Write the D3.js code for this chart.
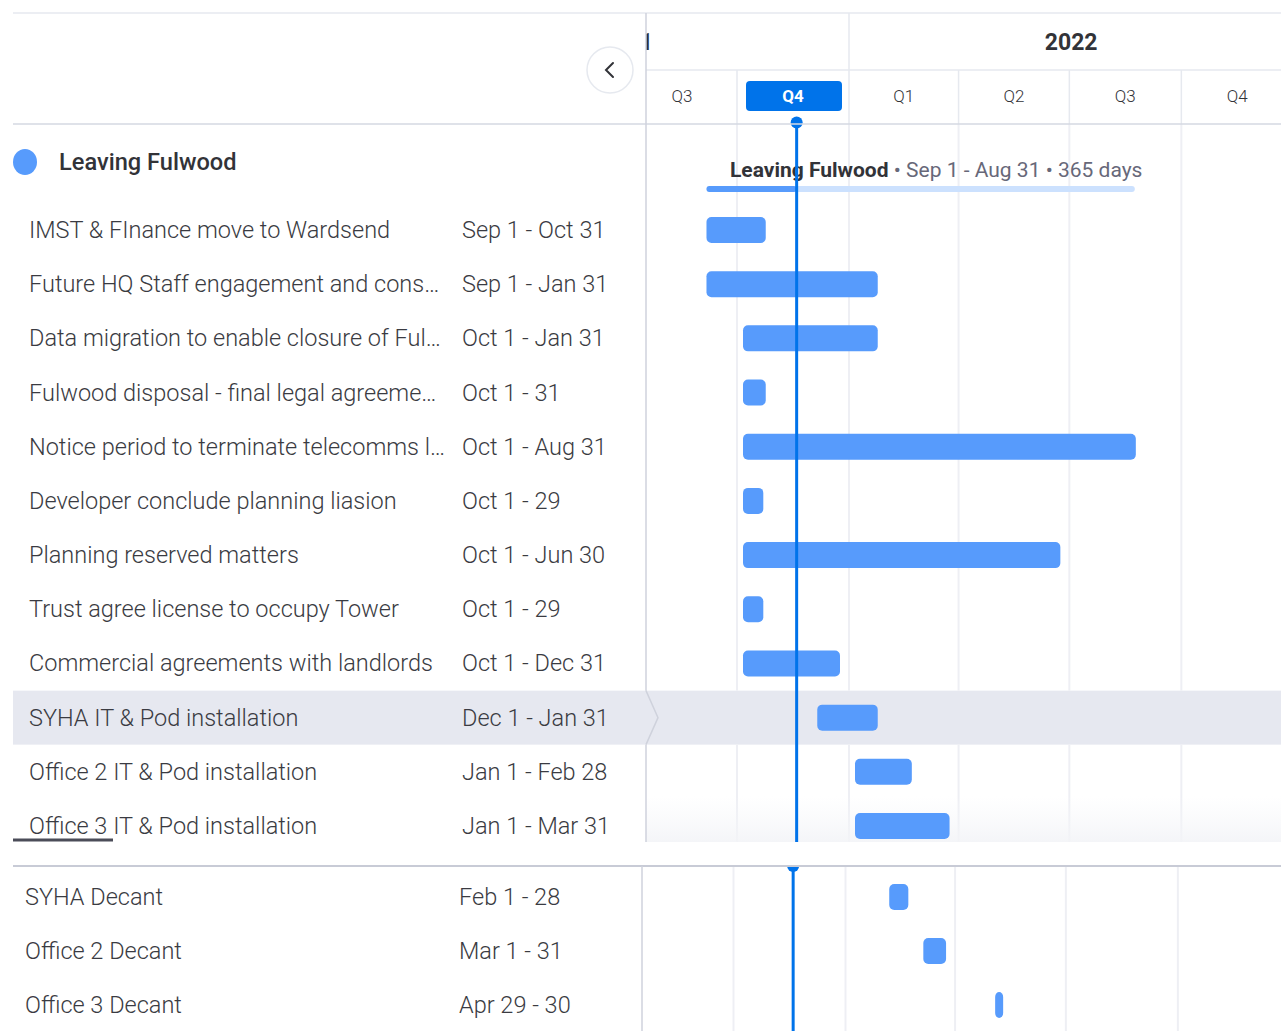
<!DOCTYPE html>
<html>
<head>
<meta charset="utf-8">
<script src="https://cdn.jsdelivr.net/npm/d3@7"></script>
<style>
  html, body { margin: 0; padding: 0; background: #fff; }
  svg { display: block; font-family: Roboto, "Open Sans", sans-serif; }
</style>
</head>
<body>
<svg id="chart" width="1281" height="1031"></svg>
<script>
// group shown on the timeline
var groupName = "Leaving Fulwood";
var groupStart = "2021-09-01";
var groupEnd = "2022-08-31";
var groupLabel = "Sep 1 - Aug 31";
var groupDays = "365 days";
var todayDate = "2021-11-19";

// tasks, upper part of the screen
var topNames = ["IMST & FInance move to Wardsend", "Future HQ Staff engagement and cons\u2026",
                "Data migration to enable closure of Ful\u2026", "Fulwood disposal - final legal agreeme\u2026",
                "Notice period to terminate telecomms l\u2026", "Developer conclude planning liasion",
                "Planning reserved matters", "Trust agree license to occupy Tower",
                "Commercial agreements with landlords", "SYHA IT & Pod installation",
                "Office 2 IT & Pod installation", "Office 3 IT & Pod installation"];
var topStarts = ["2021-09-01", "2021-09-01", "2021-10-01", "2021-10-01", "2021-10-01", "2021-10-01",
                 "2021-10-01", "2021-10-01", "2021-10-01", "2021-12-01", "2022-01-01", "2022-01-01"];
var topEnds = ["2021-10-31", "2022-01-31", "2022-01-31", "2021-10-31", "2022-08-31", "2021-10-29",
               "2022-06-30", "2021-10-29", "2021-12-31", "2022-01-31", "2022-02-28", "2022-03-31"];
var topDates = ["Sep 1 - Oct 31", "Sep 1 - Jan 31", "Oct 1 - Jan 31", "Oct 1 - 31", "Oct 1 - Aug 31",
                "Oct 1 - 29", "Oct 1 - Jun 30", "Oct 1 - 29", "Oct 1 - Dec 31", "Dec 1 - Jan 31",
                "Jan 1 - Feb 28", "Jan 1 - Mar 31"];
var selectedTask = "SYHA IT & Pod installation";

// tasks, lower part (second capture)
var bottomNames = ["SYHA Decant", "Office 2 Decant", "Office 3 Decant"];
var bottomStarts = ["2022-02-01", "2022-03-01", "2022-04-29"];
var bottomEnds = ["2022-02-28", "2022-03-31", "2022-04-30"];
var bottomDates = ["Feb 1 - 28", "Mar 1 - 31", "Apr 29 - 30"];

// header ticks
var yearStarts = ["2021-01-01", "2022-01-01"];
var yearEnds = ["2022-01-01", "2023-01-01"];
var yearLabels = ["2021", "2022"];
var quarterStarts = ["2021-07-01", "2021-10-01", "2022-01-01", "2022-04-01", "2022-07-01", "2022-10-01"];
var quarterLabels = ["Q3", "Q4", "Q1", "Q2", "Q3", "Q4"];
var currentQuarter = 1;

var parse = d3.utcParse("%Y-%m-%d");
var dayAfter = function(s) { return d3.utcDay.offset(parse(s), 1); };

var W = 1281, H = 1031;
var splitX = 646, headerTop = 13, yearRow = 70, headerBottom = 124, topBottom = 842;
var bottomLine = 866;
var barColor = "#579bfc", todayColor = "#0073ea", textColor = "#323338";

var svg = d3.select("#chart");
svg.append("rect").attr("width", W).attr("height", H).attr("fill", "#fff");

var x = d3.scaleUtc()
    .domain([parse("2021-10-01"), parse("2022-01-01")])
    .range([737, 849]);
// the lower capture sits a few pixels further left
var xb = x.copy().range([733.5, 845.5]);

var yTop = d3.scalePoint().domain(topNames).range([230, 826]);
var yBottom = d3.scalePoint().domain(bottomNames).range([897, 1005]);

var defs = svg.append("defs");
defs.append("clipPath").attr("id", "clipTop")
  .append("rect").attr("x", splitX).attr("y", 0).attr("width", W - splitX).attr("height", topBottom);
defs.append("clipPath").attr("id", "clipBottom")
  .append("rect").attr("x", 642).attr("y", bottomLine).attr("width", W - 642).attr("height", H - bottomLine);
var fade = defs.append("linearGradient").attr("id", "fade").attr("x1", 0).attr("x2", 0).attr("y1", 0).attr("y2", 1);
fade.append("stop").attr("offset", "0%").attr("stop-color", "#f6f7fa").attr("stop-opacity", 0);
fade.append("stop").attr("offset", "100%").attr("stop-color", "#f3f4f7").attr("stop-opacity", 0.9);

/* ---------- upper part ---------- */
var upper = svg.append("g");

// selected row highlight (behind everything else)
var selY = yTop(selectedTask);
upper.append("rect").attr("x", 13).attr("y", selY - 27).attr("width", W - 13).attr("height", 54)
  .attr("fill", "#e6e8f0");

var tl = upper.append("g").attr("clip-path", "url(#clipTop)");

// body grid lines at quarter starts (not over the highlighted row)
[[headerBottom, selY - 27], [selY + 27, topBottom]].forEach(function(seg) {
  tl.selectAll(null).data(quarterStarts).enter().append("line")
    .attr("x1", function(d) { return x(parse(d)); }).attr("x2", function(d) { return x(parse(d)); })
    .attr("y1", seg[0]).attr("y2", seg[1])
    .attr("stroke", "#eeeff4").attr("stroke-width", 2);
});

// bottom fade of the scroll area
tl.append("rect").attr("x", splitX).attr("y", 796).attr("width", W - splitX).attr("height", topBottom - 796)
  .attr("fill", "url(#fade)");

// header lines
upper.append("line").attr("x1", 13).attr("x2", W).attr("y1", headerTop).attr("y2", headerTop)
  .attr("stroke", "#e6e9ef").attr("stroke-width", 1.5);
upper.append("line").attr("x1", 13).attr("x2", W).attr("y1", headerBottom).attr("y2", headerBottom)
  .attr("stroke", "#d5d8e2").attr("stroke-width", 1.5);
upper.append("line").attr("x1", splitX).attr("x2", W).attr("y1", yearRow).attr("y2", yearRow)
  .attr("stroke", "#e6e9ef").attr("stroke-width", 1.5);

// year row
tl.selectAll("line.year").data(yearStarts).enter().append("line")
  .attr("class", "year")
  .attr("x1", function(d) { return x(parse(d)); }).attr("x2", function(d) { return x(parse(d)); })
  .attr("y1", headerTop).attr("y2", yearRow)
  .attr("stroke", "#e6e9ef").attr("stroke-width", 1.5);
tl.selectAll("text.year").data(yearLabels).enter().append("text")
  .attr("class", "year")
  .attr("x", function(d, i) { return i === 0 ? 653 : (x(parse(yearStarts[i])) + x(parse(yearEnds[i]))) / 2; })
  .attr("y", 50)
  .attr("text-anchor", function(d, i) { return i === 0 ? "end" : "middle"; })
  .attr("font-size", 23).attr("font-weight", "bold").attr("fill", textColor)
  .text(function(d) { return d; });

// quarter row
tl.selectAll("line.quarter").data(quarterStarts).enter().append("line")
  .attr("class", "quarter")
  .attr("x1", function(d) { return x(parse(d)); }).attr("x2", function(d) { return x(parse(d)); })
  .attr("y1", yearRow).attr("y2", headerBottom)
  .attr("stroke", "#e6e9ef").attr("stroke-width", 1.5);
var qEnd = function(i) {
  return i + 1 < quarterStarts.length ? x(parse(quarterStarts[i + 1])) : x(d3.utcMonth.offset(parse(quarterStarts[i]), 3));
};
var qCenter = function(i) {
  return (Math.max(splitX, x(parse(quarterStarts[i]))) + qEnd(i)) / 2;
};
tl.append("rect")
  .attr("x", x(parse(quarterStarts[currentQuarter])) + 9).attr("y", 81)
  .attr("width", qEnd(currentQuarter) - x(parse(quarterStarts[currentQuarter])) - 16).attr("height", 30)
  .attr("rx", 4).attr("fill", todayColor);
tl.selectAll("text.quarter").data(quarterLabels).enter().append("text")
  .attr("class", "quarter")
  .attr("x", function(d, i) { return i === 0 ? 682 : qCenter(i); })
  .attr("y", 102)
  .attr("text-anchor", "middle")
  .attr("font-size", 17)
  .attr("font-weight", function(d, i) { return i === currentQuarter ? "bold" : 300; })
  .attr("fill", function(d, i) { return i === currentQuarter ? "#fff" : textColor; })
  .text(function(d) { return d; });

// divider between the list and the timeline, with the chevron of the selected row
upper.append("line").attr("x1", splitX).attr("x2", splitX).attr("y1", headerTop).attr("y2", selY - 27)
  .attr("stroke", "#cfd2dc").attr("stroke-width", 1.5);
upper.append("line").attr("x1", splitX).attr("x2", splitX).attr("y1", selY + 27).attr("y2", topBottom)
  .attr("stroke", "#cfd2dc").attr("stroke-width", 1.5);
upper.append("polyline")
  .attr("points", [[splitX, selY - 27], [splitX + 12, selY], [splitX, selY + 27]].join(" "))
  .attr("fill", "none").attr("stroke", "#cfd2dc").attr("stroke-width", 1.5);

// collapse button
upper.append("circle").attr("cx", 610).attr("cy", 70).attr("r", 23)
  .attr("fill", "#fff").attr("stroke", "#e6e9ef").attr("stroke-width", 1.5);
upper.append("path").attr("d", "M613,63 L606,70 L613,77")
  .attr("fill", "none").attr("stroke", textColor).attr("stroke-width", 2).attr("stroke-linecap", "round");

// group header on the left
upper.append("ellipse").attr("cx", 25).attr("cy", 162).attr("rx", 12).attr("ry", 13).attr("fill", barColor);
upper.append("text").attr("x", 59).attr("y", 170).attr("font-size", 23.6).attr("font-weight", 500)
  .attr("fill", textColor).text(groupName);

// group summary on the timeline
var gText = tl.append("text").attr("x", 730).attr("y", 177).attr("font-size", 21);
gText.append("tspan").attr("font-weight", "bold").attr("fill", "#323338").text(groupName);
gText.append("tspan").attr("fill", "#676879").attr("font-weight", 400)
  .text(" \u2022 " + groupLabel + " \u2022 " + groupDays);
var gx0 = x(parse(groupStart)) + 6, gx1 = x(dayAfter(groupEnd)) - 10;
tl.append("rect").attr("x", gx0).attr("y", 186).attr("width", gx1 - gx0).attr("height", 6)
  .attr("rx", 3).attr("fill", "#cce1fe");
tl.append("rect").attr("x", gx0).attr("y", 186).attr("width", x(parse(todayDate)) - gx0).attr("height", 6)
  .attr("rx", 3).attr("fill", barColor);

// task rows on the left
function drawRows(g, names, dates, y, xName, xDate) {
  g.selectAll("text.name").data(names).enter().append("text")
    .attr("class", "name")
    .attr("x", xName).attr("y", function(d) { return y(d) + 8; })
    .attr("font-size", 23.5).attr("font-weight", 300).attr("fill", "#3a3b42")
    .text(function(d) { return d; });
  g.selectAll("text.date").data(dates).enter().append("text")
    .attr("class", "date")
    .attr("x", xDate).attr("y", function(d, i) { return y(names[i]) + 8; })
    .attr("font-size", 23.5).attr("font-weight", 300).attr("fill", "#3a3b42")
    .text(function(d) { return d; });
}
drawRows(upper, topNames, topDates, yTop, 29, 462);

// task bars
function drawBars(g, names, starts, ends, y, sx) {
  g.selectAll("rect.bar").data(names).enter().append("rect")
    .attr("class", "bar")
    .attr("x", function(d, i) { return sx(parse(starts[i])) + 6; })
    .attr("y", function(d) { return y(d) - 13; })
    .attr("width", function(d, i) {
      return Math.max(8, sx(dayAfter(ends[i])) - sx(parse(starts[i])) - 15);
    })
    .attr("height", 26).attr("rx", 5).attr("fill", barColor);
}
drawBars(tl, topNames, topStarts, topEnds, yTop, x);

// today marker
tl.append("line").attr("x1", x(parse(todayDate))).attr("x2", x(parse(todayDate)))
  .attr("y1", headerBottom).attr("y2", topBottom)
  .attr("stroke", todayColor).attr("stroke-width", 3);
tl.append("circle").attr("cx", x(parse(todayDate))).attr("cy", 122.5).attr("r", 6).attr("fill", todayColor);

// scrollbar thumb
upper.append("line").attr("x1", 13).attr("x2", 113).attr("y1", 840).attr("y2", 840)
  .attr("stroke", "#4b4c58").attr("stroke-width", 3);

/* ---------- lower part ---------- */
var lower = svg.append("g");
var bl = lower.append("g").attr("clip-path", "url(#clipBottom)");
bl.selectAll("line.grid").data(quarterStarts).enter().append("line")
  .attr("class", "grid")
  .attr("x1", function(d) { return xb(parse(d)); }).attr("x2", function(d) { return xb(parse(d)); })
  .attr("y1", bottomLine).attr("y2", H)
  .attr("stroke", "#eeeff4").attr("stroke-width", 2);
lower.append("line").attr("x1", 13).attr("x2", W).attr("y1", bottomLine).attr("y2", bottomLine)
  .attr("stroke", "#c8cbd6").attr("stroke-width", 2);
lower.append("line").attr("x1", 642).attr("x2", 642).attr("y1", bottomLine).attr("y2", H)
  .attr("stroke", "#cfd2dc").attr("stroke-width", 1.5);
drawRows(lower, bottomNames, bottomDates, yBottom, 25, 459);
drawBars(bl, bottomNames, bottomStarts, bottomEnds, yBottom, xb);
bl.append("line").attr("x1", xb(parse(todayDate))).attr("x2", xb(parse(todayDate)))
  .attr("y1", bottomLine).attr("y2", H)
  .attr("stroke", todayColor).attr("stroke-width", 3);
bl.append("circle").attr("cx", xb(parse(todayDate))).attr("cy", bottomLine).attr("r", 6).attr("fill", todayColor);
</script>
</body>
</html>
